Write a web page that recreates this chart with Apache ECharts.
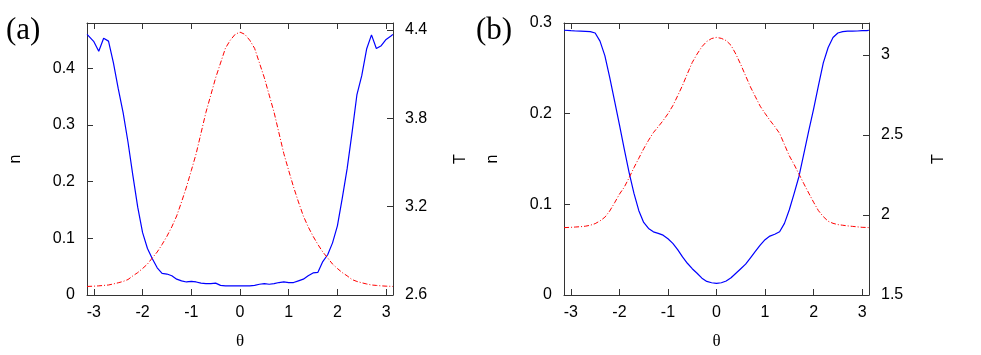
<!DOCTYPE html>
<html>
<head>
<meta charset="utf-8">
<script src="https://cdn.jsdelivr.net/npm/echarts@6/dist/echarts.min.js"></script>
<style>
html,body{margin:0;padding:0;background:#fff;}
#chart{width:981px;height:355px;}
</style>
</head>
<body>
<div id="chart"></div>
<script>
const theta = [-3.14,-3.1,-3.0,-2.9,-2.8,-2.7,-2.6,-2.5,-2.4,-2.3,-2.2,-2.1,-2.0,-1.9,-1.8,-1.7,-1.6,-1.5,-1.4,-1.3,-1.2,-1.1,-1.0,-0.9,-0.8,-0.7,-0.6,-0.5,-0.4,-0.3,-0.2,-0.1,0,0.1,0.2,0.3,0.4,0.5,0.6,0.7,0.8,0.9,1.0,1.1,1.2,1.3,1.4,1.5,1.6,1.7,1.8,1.9,2.0,2.1,2.2,2.3,2.4,2.5,2.6,2.7,2.8,2.9,3.0,3.1,3.14];

// panel (a)
const nA = [0.460,0.458,0.447,0.430,0.453,0.448,0.410,0.364,0.322,0.270,0.211,0.155,0.110,0.082,0.064,0.048,0.038,0.037,0.034,0.028,0.025,0.023,0.024,0.023,0.021,0.020,0.020,0.021,0.017,0.016,0.016,0.016,0.016,0.016,0.016,0.017,0.019,0.020,0.019,0.020,0.022,0.023,0.022,0.022,0.025,0.028,0.034,0.039,0.040,0.059,0.071,0.092,0.122,0.171,0.223,0.286,0.353,0.387,0.434,0.459,0.435,0.440,0.451,0.457,0.460];
const TA = [2.658,2.659,2.660,2.662,2.665,2.668,2.675,2.683,2.692,2.705,2.730,2.752,2.780,2.810,2.852,2.892,2.943,2.999,3.063,3.137,3.232,3.333,3.445,3.560,3.700,3.840,3.957,4.075,4.175,4.275,4.330,4.370,4.385,4.370,4.330,4.275,4.175,4.075,3.957,3.840,3.700,3.560,3.445,3.333,3.232,3.137,3.063,2.999,2.943,2.892,2.852,2.810,2.780,2.752,2.730,2.705,2.692,2.683,2.675,2.668,2.665,2.662,2.660,2.659,2.658];

// panel (b)
const nB = [0.292,0.292,0.2915,0.2912,0.291,0.2908,0.2905,0.289,0.280,0.264,0.240,0.214,0.188,0.161,0.135,0.112,0.093,0.080,0.0734,0.0697,0.068,0.066,0.062,0.057,0.050,0.042,0.035,0.029,0.024,0.0186,0.015,0.0135,0.0128,0.0135,0.0155,0.019,0.024,0.029,0.034,0.041,0.048,0.055,0.061,0.065,0.067,0.0697,0.079,0.094,0.112,0.131,0.156,0.181,0.205,0.231,0.256,0.273,0.284,0.289,0.2905,0.291,0.291,0.2912,0.2915,0.2916,0.292];
const TB = [1.921,1.922,1.923,1.925,1.927,1.930,1.936,1.946,1.963,1.986,2.025,2.076,2.130,2.174,2.233,2.296,2.355,2.414,2.467,2.515,2.552,2.590,2.633,2.683,2.745,2.810,2.883,2.953,3.006,3.052,3.085,3.103,3.110,3.104,3.090,3.060,3.005,2.940,2.870,2.800,2.740,2.680,2.635,2.592,2.553,2.510,2.440,2.370,2.315,2.255,2.195,2.137,2.080,2.027,1.990,1.961,1.948,1.940,1.936,1.932,1.929,1.926,1.923,1.922,1.921];

const xTicks = [-3,-2,-1,0,1,2,3];
const nTicksA = [0,0.1,0.2,0.3,0.4];
const TTicksA = [2.6,3.2,3.8,4.4];
const nTicksB = [0,0.1,0.2,0.3];
const TTicksB = [1.5,2,2.5,3];

const frame = '#333';
const lblFont = {fontSize:16, fontFamily:'Liberation Sans', color:'#000'};

function pairs(xs, ys){ return xs.map((x,i)=>[x, ys[i]]); }

function xAx(g, pos, showLabel){
  return {
    gridIndex:g, type:'value', min:-Math.PI, max:Math.PI, position:pos,
    name: showLabel ? 'θ' : '', nameLocation:'middle', nameGap:38,
    nameTextStyle:{fontFamily:'Liberation Serif', fontSize:17, color:'#000'},
    axisLine:{onZero:false, lineStyle:{color:frame, width:1}},
    axisTick:{inside:true, length:6, customValues:xTicks, lineStyle:{color:frame}},
    axisLabel:Object.assign({show:showLabel, customValues:xTicks, margin:10}, lblFont),
    splitLine:{show:false}
  };
}
function yAx(g, pos, min, max, ticks, name, gap){
  return {
    gridIndex:g, type:'value', min:min, max:max, position:pos,
    name:name, nameLocation:'middle', nameRotate:90, nameGap:gap,
    nameTextStyle:{fontFamily:'Liberation Sans', fontSize:16, color:'#000'},
    axisLine:{onZero:false, lineStyle:{color:frame, width:1}},
    axisTick:{inside:true, length:6, customValues:ticks, lineStyle:{color:frame}},
    axisLabel:Object.assign({customValues:ticks, margin:12}, lblFont),
    splitLine:{show:false}
  };
}

const blueStyle = {color:'#0000ff', width:1.2};
const redStyle = {color:'#ff0000', width:1, type:[5,2,1,2]};

const option = {
  animation:false,
  backgroundColor:'#fff',
  grid:[
    {left:87, top:23, width:306, height:274},
    {left:564, top:23, width:305, height:274}
  ],
  xAxis:[
    xAx(0,'bottom',true), xAx(0,'top',false),
    xAx(1,'bottom',true), xAx(1,'top',false)
  ],
  yAxis:[
    yAx(0,'left',0,0.48,nTicksA,'n',63),
    yAx(0,'right',2.6,4.447,TTicksA,'T',60),
    yAx(1,'left',0,0.3,nTicksB,'n',63),
    yAx(1,'right',1.5,3.2,TTicksB,'T',62)
  ],
  series:[
    {type:'line', xAxisIndex:0, yAxisIndex:0, data:pairs(theta,nA), showSymbol:false, lineStyle:blueStyle, itemStyle:{color:'#0000ff'}},
    {type:'line', xAxisIndex:0, yAxisIndex:1, data:pairs(theta,TA), showSymbol:false, lineStyle:redStyle, itemStyle:{color:'#ff0000'}},
    {type:'line', xAxisIndex:2, yAxisIndex:2, data:pairs(theta,nB), showSymbol:false, lineStyle:blueStyle, itemStyle:{color:'#0000ff'}},
    {type:'line', xAxisIndex:2, yAxisIndex:3, data:pairs(theta,TB), showSymbol:false, lineStyle:redStyle, itemStyle:{color:'#ff0000'}}
  ],
  graphic:[
    {type:'text', left:6, top:15, style:{text:'(a)', fontSize:31, fontFamily:'Liberation Serif', fill:'#000'}},
    {type:'text', left:476, top:15, style:{text:'(b)', fontSize:31, fontFamily:'Liberation Serif', fill:'#000'}}
  ]
};

const chart = echarts.init(document.getElementById('chart'), null, {renderer:'canvas'});
chart.setOption(option);
</script>
</body>
</html>
